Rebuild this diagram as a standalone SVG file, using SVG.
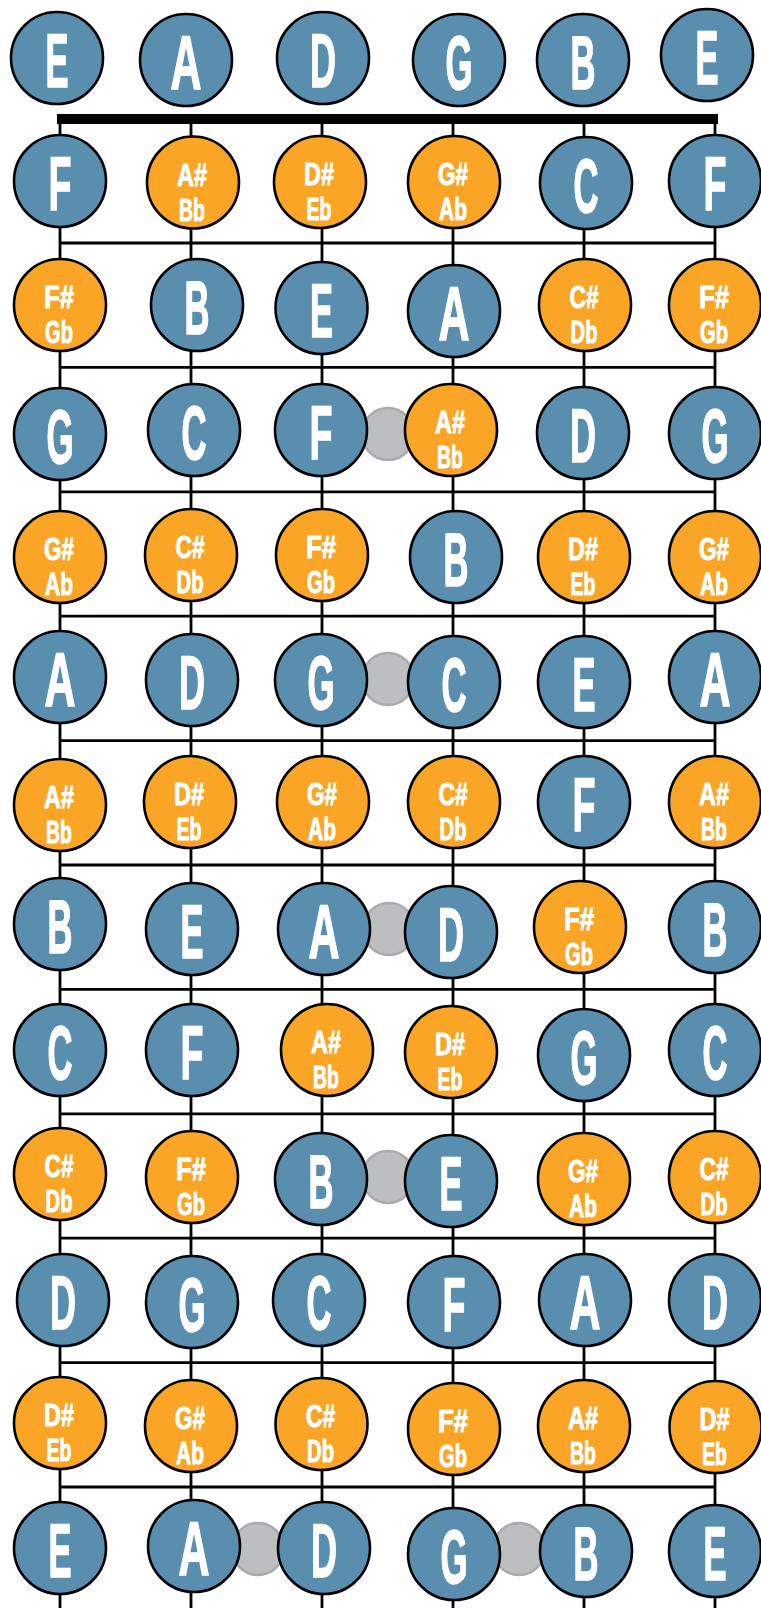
<svg xmlns="http://www.w3.org/2000/svg" width="761" height="1608" viewBox="0 0 761 1608">
<style>
.str{stroke:#000;stroke-width:2.8;fill:none}
.nut{fill:#000}
.dot{fill:#bcbec0;stroke:#a8aaad;stroke-width:2.5}
.b{fill:#5a8eaf;stroke:#000;stroke-width:2.6}
.o{fill:#faa526;stroke:#000;stroke-width:2.6}
text{font-family:"Liberation Sans","Arial",sans-serif;font-weight:bold;fill:#fff;stroke:#fff;text-anchor:middle}
.L{font-size:76px;stroke-width:1.6}
.u{font-size:32px;stroke-width:1}
.d{font-size:31px;stroke-width:1}
</style>
<rect width="761" height="1608" fill="#fff"/>
<g id="connectors">
<g class="str">
<line x1="60" y1="124" x2="60" y2="1608"/>
<line x1="191" y1="124" x2="191" y2="1608"/>
<line x1="322" y1="124" x2="322" y2="1608"/>
<line x1="453" y1="124" x2="453" y2="1608"/>
<line x1="584" y1="124" x2="584" y2="1608"/>
<line x1="715" y1="124" x2="715" y2="1608"/>
<line x1="60" y1="243" x2="715" y2="243"/>
<line x1="60" y1="367.4" x2="715" y2="367.4"/>
<line x1="60" y1="491.8" x2="715" y2="491.8"/>
<line x1="60" y1="616.2" x2="715" y2="616.2"/>
<line x1="60" y1="740.6" x2="715" y2="740.6"/>
<line x1="60" y1="865" x2="715" y2="865"/>
<line x1="60" y1="989.4" x2="715" y2="989.4"/>
<line x1="60" y1="1113.8" x2="715" y2="1113.8"/>
<line x1="60" y1="1238.2" x2="715" y2="1238.2"/>
<line x1="60" y1="1362.6" x2="715" y2="1362.6"/>
<line x1="60" y1="1487" x2="715" y2="1487"/>
</g>
<rect id="nut" class="nut" x="57" y="114" width="661" height="10"/>
</g>
<g id="inlays">
<circle class="dot" cx="388" cy="434" r="26"/>
<circle class="dot" cx="388" cy="679" r="26"/>
<circle class="dot" cx="389" cy="929" r="26"/>
<circle class="dot" cx="388" cy="1177" r="26"/>
<circle class="dot" cx="258" cy="1549" r="26"/>
<circle class="dot" cx="519" cy="1549" r="26"/>
</g>
<!-- open strings -->
<g id="r0c1"><circle class="b" cx="57" cy="58" r="46"/><text class="L" x="57" y="87" textLength="23" lengthAdjust="spacingAndGlyphs">E</text></g>
<g id="r0c2"><circle class="b" cx="186" cy="60" r="46"/><text class="L" x="186" y="89" textLength="31" lengthAdjust="spacingAndGlyphs">A</text></g>
<g id="r0c3"><circle class="b" cx="323" cy="58" r="46"/><text class="L" x="323" y="87" textLength="26" lengthAdjust="spacingAndGlyphs">D</text></g>
<g id="r0c4"><circle class="b" cx="459" cy="60" r="46"/><text class="L" x="459" y="89" textLength="27" lengthAdjust="spacingAndGlyphs">G</text></g>
<g id="r0c5"><circle class="b" cx="583" cy="60" r="46"/><text class="L" x="583" y="89" textLength="25" lengthAdjust="spacingAndGlyphs">B</text></g>
<g id="r0c6"><circle class="b" cx="707" cy="55" r="46"/><text class="L" x="707" y="84" textLength="23" lengthAdjust="spacingAndGlyphs">E</text></g>
<!-- fret 1 -->
<g id="r1c1"><circle class="b" cx="60" cy="181" r="46"/><text class="L" x="60" y="210" textLength="23" lengthAdjust="spacingAndGlyphs">F</text></g>
<g id="r1c2"><circle class="o" cx="193" cy="182.5" r="46"/><text class="u" x="192" y="185.5" textLength="30" lengthAdjust="spacingAndGlyphs">A#</text><text class="d" x="192" y="220.5" textLength="26" lengthAdjust="spacingAndGlyphs">Bb</text></g>
<g id="r1c3"><circle class="o" cx="320" cy="182" r="46"/><text class="u" x="319" y="185" textLength="30" lengthAdjust="spacingAndGlyphs">D#</text><text class="d" x="319" y="220" textLength="25" lengthAdjust="spacingAndGlyphs">Eb</text></g>
<g id="r1c4"><circle class="o" cx="454" cy="182" r="46"/><text class="u" x="453" y="185" textLength="30" lengthAdjust="spacingAndGlyphs">G#</text><text class="d" x="453" y="220" textLength="28" lengthAdjust="spacingAndGlyphs">Ab</text></g>
<g id="r1c5"><circle class="b" cx="586" cy="183" r="46"/><text class="L" x="586" y="212" textLength="25" lengthAdjust="spacingAndGlyphs">C</text></g>
<g id="r1c6"><circle class="b" cx="715" cy="181" r="46"/><text class="L" x="715" y="210" textLength="23" lengthAdjust="spacingAndGlyphs">F</text></g>
<!-- fret 2 -->
<g id="r2c1"><circle class="o" cx="60" cy="305" r="46"/><text class="u" x="59" y="308" textLength="30" lengthAdjust="spacingAndGlyphs">F#</text><text class="d" x="59" y="343" textLength="28" lengthAdjust="spacingAndGlyphs">Gb</text></g>
<g id="r2c2"><circle class="b" cx="197" cy="305" r="46"/><text class="L" x="197" y="334" textLength="25" lengthAdjust="spacingAndGlyphs">B</text></g>
<g id="r2c3"><circle class="b" cx="321.5" cy="308" r="46"/><text class="L" x="321.5" y="337" textLength="23" lengthAdjust="spacingAndGlyphs">E</text></g>
<g id="r2c4"><circle class="b" cx="454" cy="311" r="46"/><text class="L" x="454" y="340" textLength="31" lengthAdjust="spacingAndGlyphs">A</text></g>
<g id="r2c5"><circle class="o" cx="585" cy="305" r="46"/><text class="u" x="584" y="308" textLength="29" lengthAdjust="spacingAndGlyphs">C#</text><text class="d" x="584" y="343" textLength="27" lengthAdjust="spacingAndGlyphs">Db</text></g>
<g id="r2c6"><circle class="o" cx="715" cy="305" r="46"/><text class="u" x="714" y="308" textLength="30" lengthAdjust="spacingAndGlyphs">F#</text><text class="d" x="714" y="343" textLength="28" lengthAdjust="spacingAndGlyphs">Gb</text></g>
<!-- fret 3 -->
<g id="r3c1"><circle class="b" cx="60" cy="434" r="46"/><text class="L" x="60" y="463" textLength="27" lengthAdjust="spacingAndGlyphs">G</text></g>
<g id="r3c2"><circle class="b" cx="194" cy="430" r="46"/><text class="L" x="194" y="459" textLength="25" lengthAdjust="spacingAndGlyphs">C</text></g>
<g id="r3c3"><circle class="b" cx="321" cy="430" r="46"/><text class="L" x="321" y="459" textLength="23" lengthAdjust="spacingAndGlyphs">F</text></g>
<g id="r3c4"><circle class="o" cx="451" cy="430" r="46"/><text class="u" x="450" y="433" textLength="30" lengthAdjust="spacingAndGlyphs">A#</text><text class="d" x="450" y="468" textLength="26" lengthAdjust="spacingAndGlyphs">Bb</text></g>
<g id="r3c5"><circle class="b" cx="583" cy="433" r="46"/><text class="L" x="583" y="462" textLength="26" lengthAdjust="spacingAndGlyphs">D</text></g>
<g id="r3c6"><circle class="b" cx="715" cy="433" r="46"/><text class="L" x="715" y="462" textLength="27" lengthAdjust="spacingAndGlyphs">G</text></g>
<!-- fret 4 -->
<g id="r4c1"><circle class="o" cx="60" cy="557" r="46"/><text class="u" x="59" y="560" textLength="30" lengthAdjust="spacingAndGlyphs">G#</text><text class="d" x="59" y="595" textLength="28" lengthAdjust="spacingAndGlyphs">Ab</text></g>
<g id="r4c2"><circle class="o" cx="191" cy="555" r="46"/><text class="u" x="190" y="558" textLength="29" lengthAdjust="spacingAndGlyphs">C#</text><text class="d" x="190" y="593" textLength="27" lengthAdjust="spacingAndGlyphs">Db</text></g>
<g id="r4c3"><circle class="o" cx="322" cy="555" r="46"/><text class="u" x="321" y="558" textLength="30" lengthAdjust="spacingAndGlyphs">F#</text><text class="d" x="321" y="593" textLength="28" lengthAdjust="spacingAndGlyphs">Gb</text></g>
<g id="r4c4"><circle class="b" cx="456" cy="557" r="46"/><text class="L" x="456" y="586" textLength="25" lengthAdjust="spacingAndGlyphs">B</text></g>
<g id="r4c5"><circle class="o" cx="584" cy="557" r="46"/><text class="u" x="583" y="560" textLength="30" lengthAdjust="spacingAndGlyphs">D#</text><text class="d" x="583" y="595" textLength="25" lengthAdjust="spacingAndGlyphs">Eb</text></g>
<g id="r4c6"><circle class="o" cx="715" cy="557" r="46"/><text class="u" x="714" y="560" textLength="30" lengthAdjust="spacingAndGlyphs">G#</text><text class="d" x="714" y="595" textLength="28" lengthAdjust="spacingAndGlyphs">Ab</text></g>
<!-- fret 5 -->
<g id="r5c1"><circle class="b" cx="60" cy="677" r="46"/><text class="L" x="60" y="706" textLength="31" lengthAdjust="spacingAndGlyphs">A</text></g>
<g id="r5c2"><circle class="b" cx="192" cy="680" r="46"/><text class="L" x="192" y="709" textLength="26" lengthAdjust="spacingAndGlyphs">D</text></g>
<g id="r5c3"><circle class="b" cx="321" cy="680" r="46"/><text class="L" x="321" y="709" textLength="27" lengthAdjust="spacingAndGlyphs">G</text></g>
<g id="r5c4"><circle class="b" cx="454" cy="682" r="46"/><text class="L" x="454" y="711" textLength="25" lengthAdjust="spacingAndGlyphs">C</text></g>
<g id="r5c5"><circle class="b" cx="584" cy="682" r="46"/><text class="L" x="584" y="711" textLength="23" lengthAdjust="spacingAndGlyphs">E</text></g>
<g id="r5c6"><circle class="b" cx="715" cy="677" r="46"/><text class="L" x="715" y="706" textLength="31" lengthAdjust="spacingAndGlyphs">A</text></g>
<!-- fret 6 -->
<g id="r6c1"><circle class="o" cx="60" cy="805" r="46"/><text class="u" x="59" y="808" textLength="30" lengthAdjust="spacingAndGlyphs">A#</text><text class="d" x="59" y="843" textLength="26" lengthAdjust="spacingAndGlyphs">Bb</text></g>
<g id="r6c2"><circle class="o" cx="190" cy="802" r="46"/><text class="u" x="189" y="805" textLength="30" lengthAdjust="spacingAndGlyphs">D#</text><text class="d" x="189" y="840" textLength="25" lengthAdjust="spacingAndGlyphs">Eb</text></g>
<g id="r6c3"><circle class="o" cx="323" cy="802" r="46"/><text class="u" x="322" y="805" textLength="30" lengthAdjust="spacingAndGlyphs">G#</text><text class="d" x="322" y="840" textLength="28" lengthAdjust="spacingAndGlyphs">Ab</text></g>
<g id="r6c4"><circle class="o" cx="454" cy="802" r="46"/><text class="u" x="453" y="805" textLength="29" lengthAdjust="spacingAndGlyphs">C#</text><text class="d" x="453" y="840" textLength="27" lengthAdjust="spacingAndGlyphs">Db</text></g>
<g id="r6c5"><circle class="b" cx="584" cy="802" r="46"/><text class="L" x="584" y="831" textLength="23" lengthAdjust="spacingAndGlyphs">F</text></g>
<g id="r6c6"><circle class="o" cx="715" cy="802" r="46"/><text class="u" x="714" y="805" textLength="30" lengthAdjust="spacingAndGlyphs">A#</text><text class="d" x="714" y="840" textLength="26" lengthAdjust="spacingAndGlyphs">Bb</text></g>
<!-- fret 7 -->
<g id="r7c1"><circle class="b" cx="60" cy="924" r="46"/><text class="L" x="60" y="953" textLength="25" lengthAdjust="spacingAndGlyphs">B</text></g>
<g id="r7c2"><circle class="b" cx="192" cy="929" r="46"/><text class="L" x="192" y="958" textLength="23" lengthAdjust="spacingAndGlyphs">E</text></g>
<g id="r7c3"><circle class="b" cx="324" cy="929" r="46"/><text class="L" x="324" y="958" textLength="31" lengthAdjust="spacingAndGlyphs">A</text></g>
<g id="r7c4"><circle class="b" cx="451" cy="932" r="46"/><text class="L" x="451" y="961" textLength="26" lengthAdjust="spacingAndGlyphs">D</text></g>
<g id="r7c5"><circle class="o" cx="580" cy="927" r="46"/><text class="u" x="579" y="930" textLength="30" lengthAdjust="spacingAndGlyphs">F#</text><text class="d" x="579" y="965" textLength="28" lengthAdjust="spacingAndGlyphs">Gb</text></g>
<g id="r7c6"><circle class="b" cx="715" cy="927" r="46"/><text class="L" x="715" y="956" textLength="25" lengthAdjust="spacingAndGlyphs">B</text></g>
<!-- fret 8 -->
<g id="r8c1"><circle class="b" cx="60" cy="1050" r="46"/><text class="L" x="60" y="1079" textLength="25" lengthAdjust="spacingAndGlyphs">C</text></g>
<g id="r8c2"><circle class="b" cx="192" cy="1050" r="46"/><text class="L" x="192" y="1079" textLength="23" lengthAdjust="spacingAndGlyphs">F</text></g>
<g id="r8c3"><circle class="o" cx="327" cy="1050" r="46"/><text class="u" x="326" y="1053" textLength="30" lengthAdjust="spacingAndGlyphs">A#</text><text class="d" x="326" y="1088" textLength="26" lengthAdjust="spacingAndGlyphs">Bb</text></g>
<g id="r8c4"><circle class="o" cx="451" cy="1052" r="46"/><text class="u" x="450" y="1055" textLength="30" lengthAdjust="spacingAndGlyphs">D#</text><text class="d" x="450" y="1090" textLength="25" lengthAdjust="spacingAndGlyphs">Eb</text></g>
<g id="r8c5"><circle class="b" cx="584" cy="1055" r="46"/><text class="L" x="584" y="1084" textLength="27" lengthAdjust="spacingAndGlyphs">G</text></g>
<g id="r8c6"><circle class="b" cx="715" cy="1050" r="46"/><text class="L" x="715" y="1079" textLength="25" lengthAdjust="spacingAndGlyphs">C</text></g>
<!-- fret 9 -->
<g id="r9c1"><circle class="o" cx="60" cy="1174" r="46"/><text class="u" x="59" y="1177" textLength="29" lengthAdjust="spacingAndGlyphs">C#</text><text class="d" x="59" y="1212" textLength="27" lengthAdjust="spacingAndGlyphs">Db</text></g>
<g id="r9c2"><circle class="o" cx="192" cy="1177" r="46"/><text class="u" x="191" y="1180" textLength="30" lengthAdjust="spacingAndGlyphs">F#</text><text class="d" x="191" y="1215" textLength="28" lengthAdjust="spacingAndGlyphs">Gb</text></g>
<g id="r9c3"><circle class="b" cx="321" cy="1179" r="46"/><text class="L" x="321" y="1208" textLength="25" lengthAdjust="spacingAndGlyphs">B</text></g>
<g id="r9c4"><circle class="b" cx="451" cy="1181" r="46"/><text class="L" x="451" y="1210" textLength="23" lengthAdjust="spacingAndGlyphs">E</text></g>
<g id="r9c5"><circle class="o" cx="584" cy="1179" r="46"/><text class="u" x="583" y="1182" textLength="30" lengthAdjust="spacingAndGlyphs">G#</text><text class="d" x="583" y="1217" textLength="28" lengthAdjust="spacingAndGlyphs">Ab</text></g>
<g id="r9c6"><circle class="o" cx="715" cy="1177" r="46"/><text class="u" x="714" y="1180" textLength="29" lengthAdjust="spacingAndGlyphs">C#</text><text class="d" x="714" y="1215" textLength="27" lengthAdjust="spacingAndGlyphs">Db</text></g>
<!-- fret 10 -->
<g id="r10c1"><circle class="b" cx="63" cy="1300" r="46"/><text class="L" x="63" y="1329" textLength="26" lengthAdjust="spacingAndGlyphs">D</text></g>
<g id="r10c2"><circle class="b" cx="192" cy="1302" r="46"/><text class="L" x="192" y="1331" textLength="27" lengthAdjust="spacingAndGlyphs">G</text></g>
<g id="r10c3"><circle class="b" cx="319" cy="1300" r="46"/><text class="L" x="319" y="1329" textLength="25" lengthAdjust="spacingAndGlyphs">C</text></g>
<g id="r10c4"><circle class="b" cx="454" cy="1302" r="46"/><text class="L" x="454" y="1331" textLength="23" lengthAdjust="spacingAndGlyphs">F</text></g>
<g id="r10c5"><circle class="b" cx="585" cy="1300" r="46"/><text class="L" x="585" y="1329" textLength="31" lengthAdjust="spacingAndGlyphs">A</text></g>
<g id="r10c6"><circle class="b" cx="715" cy="1300" r="46"/><text class="L" x="715" y="1329" textLength="26" lengthAdjust="spacingAndGlyphs">D</text></g>
<!-- fret 11 -->
<g id="r11c1"><circle class="o" cx="60" cy="1423" r="46"/><text class="u" x="59" y="1426" textLength="30" lengthAdjust="spacingAndGlyphs">D#</text><text class="d" x="59" y="1461" textLength="25" lengthAdjust="spacingAndGlyphs">Eb</text></g>
<g id="r11c2"><circle class="o" cx="191" cy="1426" r="46"/><text class="u" x="190" y="1429" textLength="30" lengthAdjust="spacingAndGlyphs">G#</text><text class="d" x="190" y="1464" textLength="28" lengthAdjust="spacingAndGlyphs">Ab</text></g>
<g id="r11c3"><circle class="o" cx="321.5" cy="1424" r="46"/><text class="u" x="320.5" y="1427" textLength="29" lengthAdjust="spacingAndGlyphs">C#</text><text class="d" x="320.5" y="1462" textLength="27" lengthAdjust="spacingAndGlyphs">Db</text></g>
<g id="r11c4"><circle class="o" cx="454" cy="1429" r="46"/><text class="u" x="453" y="1432" textLength="30" lengthAdjust="spacingAndGlyphs">F#</text><text class="d" x="453" y="1467" textLength="28" lengthAdjust="spacingAndGlyphs">Gb</text></g>
<g id="r11c5"><circle class="o" cx="584" cy="1426" r="46"/><text class="u" x="583" y="1429" textLength="30" lengthAdjust="spacingAndGlyphs">A#</text><text class="d" x="583" y="1464" textLength="26" lengthAdjust="spacingAndGlyphs">Bb</text></g>
<g id="r11c6"><circle class="o" cx="715.5" cy="1427" r="46"/><text class="u" x="714.5" y="1430" textLength="30" lengthAdjust="spacingAndGlyphs">D#</text><text class="d" x="714.5" y="1465" textLength="25" lengthAdjust="spacingAndGlyphs">Eb</text></g>
<!-- fret 12 -->
<g id="r12c1"><circle class="b" cx="60" cy="1548" r="46"/><text class="L" x="60" y="1577" textLength="23" lengthAdjust="spacingAndGlyphs">E</text></g>
<g id="r12c2"><circle class="b" cx="194" cy="1546" r="46"/><text class="L" x="194" y="1575" textLength="31" lengthAdjust="spacingAndGlyphs">A</text></g>
<g id="r12c3"><circle class="b" cx="324" cy="1548" r="46"/><text class="L" x="324" y="1577" textLength="26" lengthAdjust="spacingAndGlyphs">D</text></g>
<g id="r12c4"><circle class="b" cx="454" cy="1554" r="46"/><text class="L" x="454" y="1583" textLength="27" lengthAdjust="spacingAndGlyphs">G</text></g>
<g id="r12c5"><circle class="b" cx="586" cy="1551" r="46"/><text class="L" x="586" y="1580" textLength="25" lengthAdjust="spacingAndGlyphs">B</text></g>
<g id="r12c6"><circle class="b" cx="715" cy="1551" r="46"/><text class="L" x="715" y="1580" textLength="23" lengthAdjust="spacingAndGlyphs">E</text></g>
</svg>
